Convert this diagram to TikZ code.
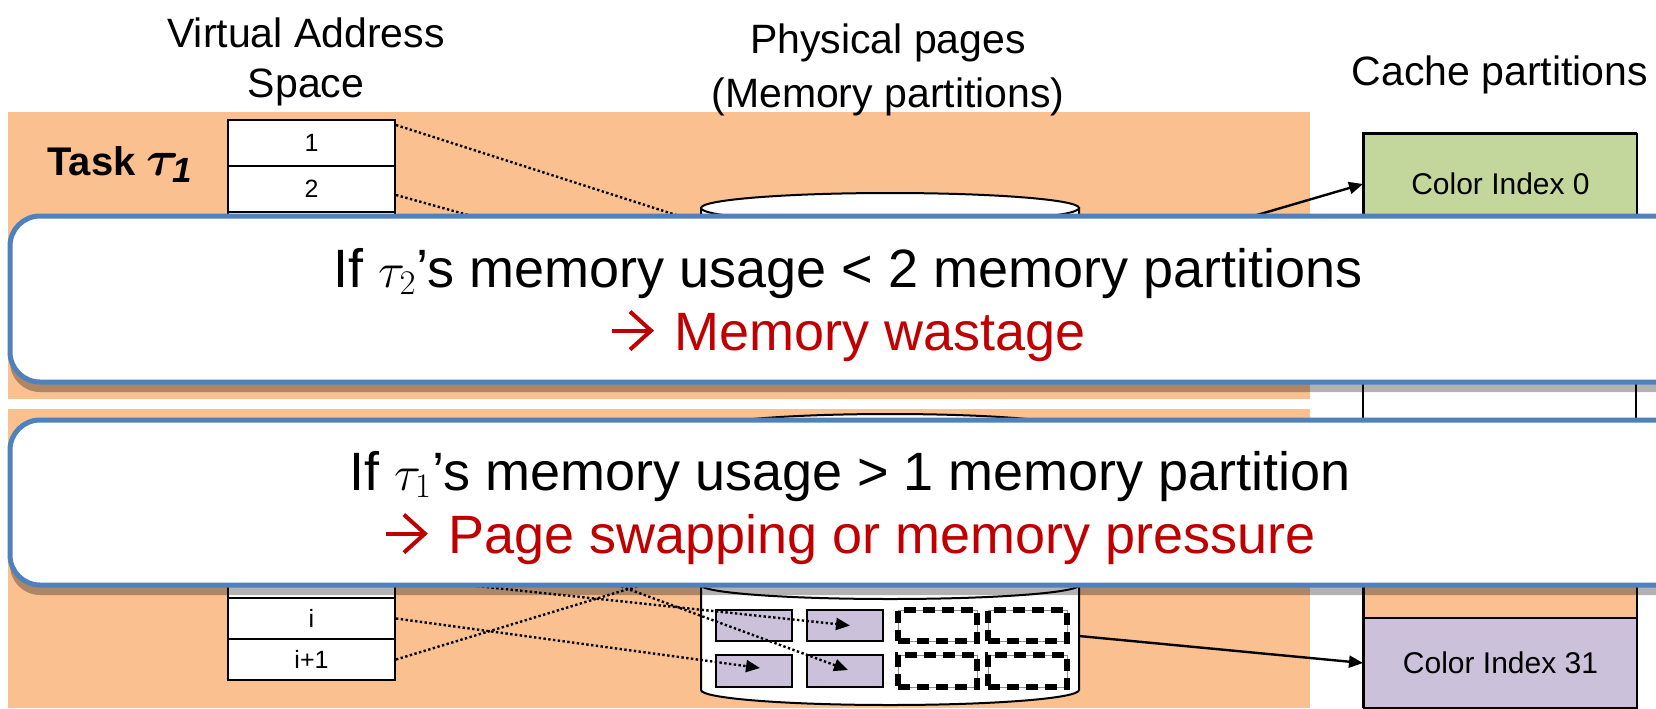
\documentclass[tikz,border=0pt]{standalone}
\usepackage{fontspec}
\usepackage{amsmath}
\setmainfont{Liberation Sans}
\usetikzlibrary{arrows.meta,shadows}
\definecolor{bandor}{HTML}{FAC090}
\definecolor{cgreen}{HTML}{C3D69B}
\definecolor{cpurple}{HTML}{CCC1DA}
\definecolor{cblue}{HTML}{4F81BD}
\definecolor{cred}{HTML}{C00000}
\begin{document}
\begin{tikzpicture}[x=0.5pt,y=-0.5pt,
  band/.style={fill=bandor},
  vcell/.style={draw=black,line width=1pt,fill=white,minimum width=83.5pt,inner sep=0pt,anchor=north west,font=\fontsize{12.5}{15}\selectfont},
  vtop/.style={vcell,minimum height=23pt},
  vbot/.style={vcell,minimum height=20.5pt},
  cyl/.style={draw=black,line width=1pt,fill=white},
  pbox/.style={draw=black,line width=1pt,fill=cpurple,minimum width=38pt,inner sep=0pt},
  dbox/.style={draw=black!45,line width=0.5pt,fill=white,minimum width=39.5pt,inner sep=0pt},
  dboxd/.style={draw=black,line width=2.6pt,dash pattern=on 6pt off 3.5pt,minimum width=39.5pt,inner sep=0pt},
  ccell/.style={draw=black,line width=1pt,minimum width=136.5pt,inner sep=0pt,anchor=north west,font=\fontsize{15}{18}\selectfont},
  dots/.style={line width=1.2pt,dash pattern=on 1.2pt off 1.2pt,-{Triangle[length=7pt,width=6pt]}},
  solidarr/.style={line width=1.2pt,-{Triangle[length=7pt,width=6pt]}},
  callout/.style={draw=cblue,line width=2.5pt,fill=white,rounded corners=15pt,minimum width=840pt,inner sep=0pt,
    drop shadow={shadow xshift=0pt,shadow yshift=-5pt,opacity=0.3,fill=black}},
  ctext/.style={anchor=base,inner sep=0pt,font=\fontsize{27}{32}\selectfont},
  redarrow/.style={draw=cred,line width=2pt,miter limit=4},
  hdr/.style={anchor=base,inner sep=0pt,font=\fontsize{20.5}{24}\selectfont}]
\useasboundingbox (0,0) rectangle (1656,708);
\clip (0,0) rectangle (1656,708);
\fill[white] (0,0) rectangle (1656,708);
% bands
\fill[band] (8,112) rectangle (1310,399);
\fill[band] (8,409) rectangle (1310,708);
% headers
\node[hdr] (hv1) at (306,47) {Virtual Address};
\node[hdr] (hv2) at (306,97) {Space};
\node[hdr] (hp1) at (888,53) {Physical pages};
\node[hdr] (hp2) at (888,107) {(Memory partitions)};
\node[hdr] (hc) at (1500,85) {Cache partitions};
\node[anchor=base west,inner sep=0pt,font=\fontsize{20}{24}\selectfont\bfseries] (task1) at (47,175) {Task {\fontsize{25}{28}\selectfont$\boldsymbol{\tau_{\mathit{1}}}$}};
% cache column
\draw[line width=1pt] (1363,133) rectangle (1636,707);
\node[ccell,fill=cgreen,minimum height=50pt] (c0) at (1363,133) {Color Index 0};
\node[ccell,fill=bandor,minimum height=43.5pt] (c30) at (1363,530) {};
\node[ccell,fill=cpurple,minimum height=45pt] (c31) at (1363,617) {Color Index 31};
% virtual address cells (task 1)
\node[vtop] (v1) at (227,119) {1};
\node[vtop] (v2) at (227,165) {2};
\node[vtop] (v3) at (227,211) {};
\node[vtop] (v4) at (227,257) {};
\node[vtop] (v5) at (227,303) {};
% virtual address cells (task 2)
\node[vbot] (w4) at (227,433) {};
\node[vbot] (w3) at (227,474) {};
\node[vbot] (w2) at (227,515) {};
\node[vbot] (w1) at (227,556) {};
\node[vbot] (wi) at (227,597) {i};
\node[vbot] (wi1) at (227,638) {i+1};
% cylinders
\filldraw[cyl] (701,208) -- (701,340) arc[start angle=180,end angle=0,x radius=189,y radius=15] -- (1079,208) -- cycle;
\draw[cyl] (890,208) ellipse[x radius=189,y radius=15];
\filldraw[cyl] (701,430) -- (701,690) arc[start angle=180,end angle=0,x radius=189,y radius=15] -- (1079,430) -- cycle;
\draw[cyl] (890,430) ellipse[x radius=189,y radius=16];
\draw[line width=1pt] (701,585) arc[start angle=180,end angle=0,x radius=189,y radius=14];
\coordinate (cy1e) at (1079,267);
\coordinate (cy2e) at (1079,636);
% page boxes
\node[pbox,minimum height=15.5pt] (p1) at (754,625.5) {};
\node[pbox,minimum height=15.5pt] (p2) at (845,625.5) {};
\node[pbox,minimum height=16pt] (p3) at (754,671) {};
\node[pbox,minimum height=16pt] (p4) at (845,671) {};
\node[dbox,minimum height=15.5pt] (d1) at (937.5,625.5) {};
\node[dbox,minimum height=15.5pt] (d2) at (1027.5,625.5) {};
\node[dbox,minimum height=16pt] (d3) at (937.5,671) {};
\node[dbox,minimum height=16pt] (d4) at (1027.5,671) {};
\node[dboxd,minimum height=15.5pt] (dd1) at (937.5,625.5) {};
\node[dboxd,minimum height=15.5pt] (dd2) at (1027.5,625.5) {};
\node[dboxd,minimum height=16pt] (dd3) at (937.5,671) {};
\node[dboxd,minimum height=16pt] (dd4) at (1027.5,671) {};
% hidden targets
\coordinate (t1) at (760,242);
\coordinate (t2) at (760,296);
\coordinate (h1) at (780,543);
% dotted mappings
\draw[dots] ([yshift=-3pt]v1.north east) -- (t1);
\draw[dots] ([yshift=-3pt]v2.east) -- (t2);
\draw[dots] (wi.east) -- ([xshift=3pt,yshift=1.5pt]p3.center);
\draw[dots] (w1.east) -- ([xshift=2.5pt]p2.center);
\draw[dots] ([yshift=-4pt]w3.east) -- ([xshift=1.5pt,yshift=0.5pt]p4.center);
\draw[dots] (wi1.east) -- (h1);
% cache arrows
\draw[solidarr] (cy1e) -- (c0.west);
\draw[solidarr] (cy2e) -- (c31.west);
% callouts
\node[callout,minimum height=83pt] (co1) at (850,299) {};
\node[ctext] (co1a) at (848,287) {If $\tau_2$’s memory usage < 2 memory partitions};
\node[ctext,text=cred] (co1b) at (848,350) {\hspace*{32pt}Memory wastage};
\draw[redarrow] ([xshift=1pt,yshift=9.7pt]co1b.base west) -- ([xshift=21pt,yshift=9.7pt]co1b.base west);
\draw[redarrow] ([xshift=10pt,yshift=19.2pt]co1b.base west) -- ([xshift=20.5pt,yshift=9.7pt]co1b.base west) -- ([xshift=10pt,yshift=0.2pt]co1b.base west);
\node[callout,minimum height=82.5pt] (co2) at (850,502.5) {};
\node[ctext] (co2a) at (850,490) {If $\tau_1$’s memory usage > 1 memory partition};
\node[ctext,text=cred] (co2b) at (850,553) {\hspace*{32pt}Page swapping or memory pressure};
\draw[redarrow] ([xshift=1pt,yshift=9.7pt]co2b.base west) -- ([xshift=21pt,yshift=9.7pt]co2b.base west);
\draw[redarrow] ([xshift=10pt,yshift=19.2pt]co2b.base west) -- ([xshift=20.5pt,yshift=9.7pt]co2b.base west) -- ([xshift=10pt,yshift=0.2pt]co2b.base west);
\end{tikzpicture}
\end{document}
